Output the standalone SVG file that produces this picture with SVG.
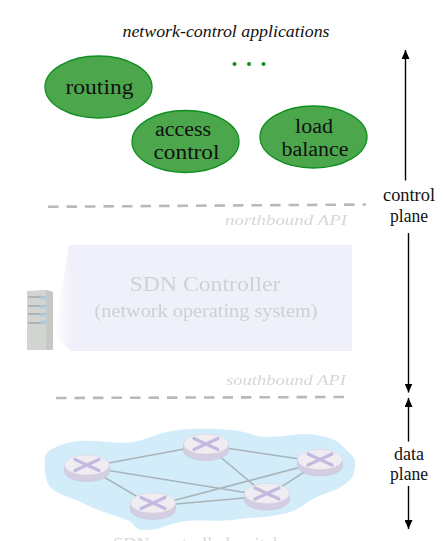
<svg xmlns="http://www.w3.org/2000/svg" width="443" height="541" viewBox="0 0 443 541">
<style>
text{font-family:"Liberation Serif","Times New Roman",serif;text-anchor:middle}
.app{fill:#4ca64c;stroke:#0f8f1f;stroke-width:1.3}
.lbl{font-size:20px;fill:#111}
.side{font-size:18px;fill:#111}
.dash{fill:none;stroke:#b9b9b9;stroke-width:2.6;stroke-dasharray:10.5 8}
.ax{fill:none;stroke:#000;stroke-width:1.4}
.link{stroke:#a9b4b8;stroke-width:1.5;fill:none}
.rb{fill:#d4cee2;stroke:#c9c3da;stroke-width:.6}
.rt{fill:#f0edf2;stroke:#d8d3e2;stroke-width:.6}
.rx{stroke:#c3bae0;stroke-width:3.200;fill:none;stroke-linecap:round}
.faint{fill:#d6d6d6;font-style:italic;font-size:15px}
</style>
<defs>
<marker id="ah" viewBox="0 0 9 8" refX="9" refY="4" markerWidth="9" markerHeight="8" markerUnits="userSpaceOnUse" orient="auto"><path d="M0 0L9 4L0 8Z" fill="#000"/></marker>
<linearGradient id="fade" gradientUnits="userSpaceOnUse" x1="54" y1="0" x2="72" y2="0"><stop offset="0" stop-color="#fff"/><stop offset="1" stop-color="#eff0f9"/></linearGradient>
<filter id="soft" x="-5%" y="-5%" width="110%" height="110%"><feGaussianBlur stdDeviation="0.5"/></filter>
<g id="router"><path class="rb" d="M-22.5 0V6.500A22.5 10 0 0 0 22.5 6.500V0Z"/><ellipse class="rt" rx="22.5" ry="10"/><path class="rx" d="M-12-5.500L12 5.500M-12 5.500L12-5.500"/></g>
</defs>
<text x="226" y="36.500" font-size="17.500" font-style="italic" fill="#111" textLength="207" lengthAdjust="spacingAndGlyphs">network-control applications</text>
<g id="dots" fill="#0f8f1f"><circle cx="234.500" cy="64" r="2"/><circle cx="249" cy="64" r="2"/><circle cx="263.500" cy="64" r="2"/></g>
<g id="routing"><ellipse class="app" cx="98.500" cy="87" rx="53.500" ry="31"/><text class="lbl" x="99.500" y="93.500" textLength="68" lengthAdjust="spacingAndGlyphs" style="font-size:22px">routing</text></g>
<g id="access-control"><ellipse class="app" cx="185.500" cy="141.500" rx="53.500" ry="31"/><text class="lbl" x="183" y="136" textLength="56" lengthAdjust="spacingAndGlyphs">access</text><text class="lbl" x="186.500" y="159" textLength="66" lengthAdjust="spacingAndGlyphs">control</text></g>
<g id="load-balance"><ellipse class="app" cx="313.500" cy="137" rx="53.500" ry="31"/><text class="lbl" x="314" y="132.500" textLength="38" lengthAdjust="spacingAndGlyphs">load</text><text class="lbl" x="315" y="155.500" textLength="67" lengthAdjust="spacingAndGlyphs">balance</text></g>
<g id="connectors">
<path class="dash" d="M48 206.800L366 204.500"/>
<path class="dash" d="M56 398L346 397"/>
<path class="ax" d="M405.500 180.500V50" marker-end="url(#ah)"/>
<path class="ax" d="M408.500 233V392.500" marker-end="url(#ah)"/>
<path class="ax" d="M408.500 441.500V398" marker-end="url(#ah)"/>
<path class="ax" d="M408.500 486V529" marker-end="url(#ah)"/>
</g>
<text class="side" x="409" y="201" textLength="52" lengthAdjust="spacingAndGlyphs">control</text><text class="side" x="409" y="221.500" textLength="38" lengthAdjust="spacingAndGlyphs">plane</text>
<text class="side" x="409" y="459.500" textLength="30" lengthAdjust="spacingAndGlyphs">data</text><text class="side" x="409" y="479.500" textLength="38" lengthAdjust="spacingAndGlyphs">plane</text>
<g filter="url(#soft)"><text class="faint" x="286" y="225" textLength="122" lengthAdjust="spacingAndGlyphs">northbound API</text>
<text class="faint" x="286" y="385" textLength="120" lengthAdjust="spacingAndGlyphs">southbound API</text></g>
<g id="sdn-controller">
<path d="M69 245H352V351H72L54 338L56 323Z" fill="url(#fade)"/>
<g filter="url(#soft)"><text x="205" y="291" font-size="22px" fill="#d0d1d8" textLength="151" lengthAdjust="spacingAndGlyphs">SDN Controller</text>
<text x="206" y="317" font-size="18px" fill="#cfd0d6" textLength="223" lengthAdjust="spacingAndGlyphs">(network operating system)</text></g>
</g>
<g id="server" filter="url(#soft)">
<path d="M27 291L46 290L53 292V350H27Z" fill="#d2d4d1"/>
<path d="M46 290L53 292V350H46Z" fill="#c6c8c5"/>
<path d="M28 297H45M28 306H45M28 314H45M28 323H45" stroke="#a6a8a6" stroke-width="1.500"/>
<path d="M40 298H46M40 307H46M40 315H46M40 322H46" stroke="#a9cbe3" stroke-width="3"/>
</g>
<g id="cloud"><path d="M45 457C47 449 58 446 67 443C90 437 115 445 133 442C150 439 160 431 180 430C198 428 215 429 233 430C245 431 255 437 267 437C285 437 302 432 317 435C333 438 340 442 343 447C350 453 356 458 355 463C355 472 353 477 350 480C340 490 328 492 317 497C306 502 300 509 290 512C272 518 252 517 233 520C215 522 198 519 180 522C165 525 158 531 143 530C133 529 135 523 127 520C112 514 97 511 83 503C70 497 58 495 50 487C45 480 44 468 45 457Z" fill="#d2ecfa"/></g>
<g id="links">
<path class="link" d="M87 467L206 445L320 462L267 496L153 506L87 467M87 467L267 496M206 445L267 496M153 506L320 462"/>
</g>
<g id="routers" filter="url(#soft)">
<g id="r1"><use href="#router" x="87" y="465"/></g>
<g id="r2"><use href="#router" x="206" y="444"/></g>
<g id="r3"><use href="#router" x="320" y="459.500"/></g>
<g id="r4"><use href="#router" x="267" y="493.500"/></g>
<g id="r5"><use href="#router" x="153" y="503"/></g>
</g>
<text x="205" y="549" font-size="16" fill="#d8d8d8" textLength="184" lengthAdjust="spacingAndGlyphs">SDN-controlled switches</text>
</svg>
